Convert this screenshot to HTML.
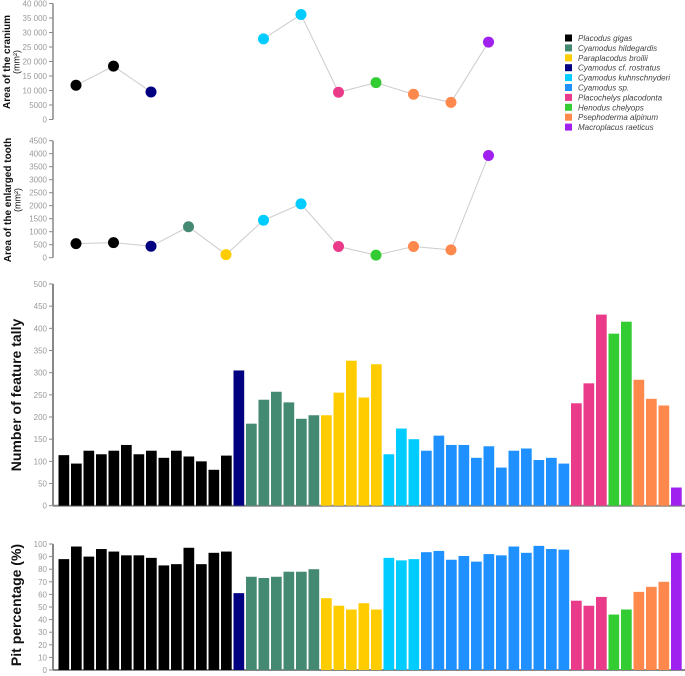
<!DOCTYPE html>
<html><head><meta charset="utf-8">
<style>
body{margin:0;background:#fff;}
svg{display:block;font-family:"Liberation Sans",sans-serif;}
.tick{fill:#999;font-size:8px;}
.ttl{font-weight:bold;fill:#111;}
.leg{font-size:8px;font-style:italic;fill:#444;}
</style></head>
<body>
<svg id="c" width="685" height="676"></svg>
<script>
const speciesNames=["Placodus gigas","Cyamodus hildegardis","Paraplacodus broilii","Cyamodus cf. rostratus","Cyamodus kuhnschnyderi","Cyamodus sp.","Placochelys placodonta","Henodus chelyops","Psephoderma alpinum","Macroplacus raeticus"];
const speciesColors=["#000000","#448a72","#ffcc00","#000080","#00ccff","#1e90ff","#ea3a8a","#33cc33","#ff884d","#a020f0"];
const pointSpecies=[0,0,3,1,2,4,4,6,7,8,8,9];
const craniumValues=[11800,18400,9500,null,null,27800,36200,9400,12700,8700,5900,26700];
const toothValues=[540,580,440,1190,120,1440,2070,430,100,430,300,3930];
const craniumTicks=[0,5000,10000,15000,20000,25000,30000,35000,40000];
const craniumTickLabels=["0","5000","10 000","15 000","20 000","25 000","30 000","35 000","40 000"];
const toothTicks=[0,500,1000,1500,2000,2500,3000,3500,4000,4500];
const barSpecies=[0,0,0,0,0,0,0,0,0,0,0,0,0,0,3,1,1,1,1,1,1,2,2,2,2,2,4,4,4,5,5,5,5,5,5,5,5,5,5,5,5,6,6,6,7,7,8,8,8,9];
const tallyValues=[114,95,124,116,124,137,116,124,108,124,111,100,81,113,305,185,239,257,233,196,204,204,255,327,244,319,116,174,150,124,158,137,137,108,134,86,124,129,103,108,95,231,276,431,388,415,284,241,226,41];
const pitValues=[88,98,90,96,94,91,91,89,83,84,97,84,93,94,61,74,73,74,78,78,80,57,51,48,53,48,89,87,88,93.5,94.5,87.5,90.5,86,92,91,98,93,98.5,96,95.5,55,51,58,44,48,62,66,70,93];
const tallyTicks=[0,50,100,150,200,250,300,350,400,450,500];
const pitTicks=[0,10,20,30,40,50,60,70,80,90,100];

const NS="http://www.w3.org/2000/svg";
const svg=document.getElementById('c');
function mk(tag,attrs,parent){const e=document.createElementNS(NS,tag);for(const k in attrs)e.setAttribute(k,attrs[k]);(parent||svg).appendChild(e);return e;}

function yAxis(x,y0,y1,ticks,labels,vmax,name,thick){
  const g=mk('g',{});
  
  
  mk('line',{x1:x,x2:x,y1:y0,y2:y1,stroke:'#888','stroke-width':thick||1.5},g);
  ticks.forEach((t,i)=>{const y=y0-(y0-y1)*t/vmax;
    mk('line',{x1:x-4,x2:x,y1:y,y2:y,stroke:'#888','stroke-width':1},g);
    const tx=mk('text',{x:x-6,y:y+3,'text-anchor':'end',class:'tick'},g);tx.textContent=labels?labels[i]:String(t);});
}
function vtitle(x,y,lines,size,name){
  const t=mk('text',{transform:`translate(${x},${y}) rotate(-90)`,'text-anchor':'middle',class:'ttl','font-size':size});
  
  
  lines.forEach((l,i)=>{const s=mk('tspan',{x:0,dy:i?size-0.5:0},t);if(i){s.setAttribute('font-weight','normal');s.setAttribute('font-size',size-1);}s.textContent=l;});
}
function pointChart(vals,y0,y1,vmax,name){
  const sx=i=>76+37.5*i, sy=v=>y0-(y0-y1)*v/vmax;
  let d='',pen=false;
  vals.forEach((v,i)=>{if(v==null){pen=false;return;}d+=(pen?'L':'M')+sx(i)+' '+sy(v)+' ';pen=true;});
  const p=mk('path',{d:d,fill:'none',stroke:'#ccc','stroke-width':1});
  
  
  vals.forEach((v,i)=>{if(v==null)return;
    const c=mk('circle',{cx:sx(i),cy:sy(v),r:5.5,fill:speciesColors[pointSpecies[i]]});
    
    });
}
yAxis(53,119.5,3.5,craniumTicks,craniumTickLabels,40000,'cranium-y-axis');
pointChart(craniumValues,119.5,3.5,40000,'cranium');
vtitle(10,62,["Area of the cranium","(mm²)"],10,'cranium-y-title');
yAxis(53,257.7,140.7,toothTicks,null,4500,'tooth-y-axis');
pointChart(toothValues,257.7,140.7,4500,'tooth');
vtitle(11,200,["Area of the enlarged tooth","(mm²)"],10,'tooth-y-title');

function barChart(vals,y0,y1,vmax,ticks,name){
  yAxis(53,y0,y1,ticks,null,vmax,name+'-y-axis',2);
  const ax=mk('line',{x1:53,x2:685,y1:y0,y2:y0,stroke:'#888','stroke-width':2});
  
  
  const step=625/vals.length;
  vals.forEach((v,i)=>{const h=(y0-y1)*v/vmax;
    const r=mk('rect',{x:58.5+step*i,y:y0-h,width:step-1.8,height:h,fill:speciesColors[barSpecies[i]]});
    
    });
}
barChart(tallyValues,505.7,284,500,tallyTicks,'tally');
vtitle(21,395,["Number of feature tally"],14,'tally-y-title');
barChart(pitValues,670,544,100,pitTicks,'pit');
vtitle(21,605,["Pit percentage (%)"],14,'pit-y-title');

const lg=mk('g',{});


speciesNames.forEach((n,i)=>{const y=38+9.9*i;
  const e=mk('g',{},lg);
  
  
  mk('rect',{x:565,y:y-3.5,width:7,height:7,fill:speciesColors[i]},e);
  const t=mk('text',{x:578,y:y+3,class:'leg'},e);t.textContent=n;});
</script>
</body></html>
